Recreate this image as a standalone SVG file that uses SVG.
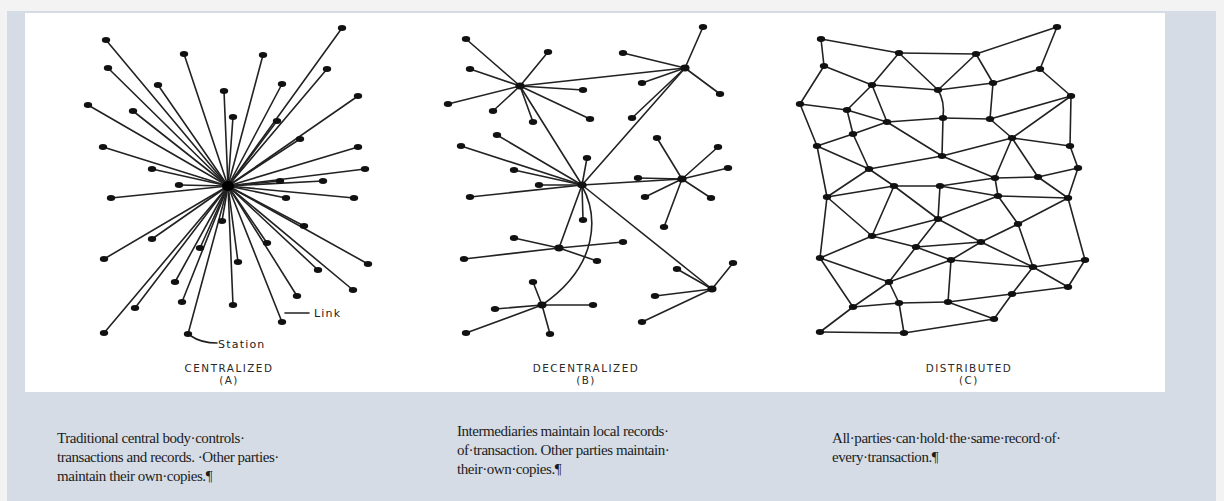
<svg xmlns="http://www.w3.org/2000/svg" width="1224" height="501" viewBox="0 0 1224 501">
<style>
.n{fill:#111}
.h{fill:#000}
.e line,.e path{stroke:#222;stroke-width:1.6;fill:none;stroke-linecap:round}
.cap{font-family:"DejaVu Sans",sans-serif;font-size:10.4px;letter-spacing:1.5px;fill:#2a2a2a;text-anchor:middle}
.lab{font-family:"DejaVu Sans",sans-serif;font-size:11px;letter-spacing:1.2px;fill:#222}
.para{font-family:"Liberation Serif",serif;font-size:15px;letter-spacing:-0.45px;fill:#1c1c1c}
</style>
<defs>
<ellipse id="d" rx="4.2" ry="3"/>
</defs>
<rect x="0" y="0" width="1224" height="501" fill="#f3f3f3"/>
<rect x="7" y="11" width="1209" height="490" fill="#d5dce6"/>
<rect x="25" y="13" width="1140" height="379" fill="#ffffff"/>

<g id="connectors" class="e">
<g id="edges-A">
<line x1="228" y1="186" x2="106" y2="40"/><line x1="228" y1="186" x2="184" y2="54"/><line x1="228" y1="186" x2="263" y2="55"/><line x1="228" y1="186" x2="342" y2="28"/>
<line x1="228" y1="186" x2="108" y2="68"/><line x1="228" y1="186" x2="158" y2="85"/><line x1="228" y1="186" x2="224" y2="91"/><line x1="228" y1="186" x2="282" y2="84"/>
<line x1="228" y1="186" x2="327" y2="69"/><line x1="228" y1="186" x2="88" y2="105"/><line x1="228" y1="186" x2="133" y2="111"/><line x1="228" y1="186" x2="233" y2="117"/>
<line x1="228" y1="186" x2="277" y2="121"/><line x1="228" y1="186" x2="358" y2="96"/><line x1="228" y1="186" x2="103" y2="147"/><line x1="228" y1="186" x2="300" y2="139"/>
<line x1="228" y1="186" x2="358" y2="147"/><line x1="228" y1="186" x2="152" y2="169"/><line x1="228" y1="186" x2="365" y2="169"/><line x1="228" y1="186" x2="280" y2="181"/>
<line x1="228" y1="186" x2="323" y2="181"/><line x1="228" y1="186" x2="179" y2="185"/><line x1="228" y1="186" x2="111" y2="198"/><line x1="228" y1="186" x2="286" y2="198"/>
<line x1="228" y1="186" x2="354" y2="198"/><line x1="228" y1="186" x2="222" y2="221"/><line x1="228" y1="186" x2="304" y2="226"/><line x1="228" y1="186" x2="152" y2="239"/>
<line x1="228" y1="186" x2="200" y2="248"/><line x1="228" y1="186" x2="267" y2="243"/><line x1="228" y1="186" x2="104" y2="259"/><line x1="228" y1="186" x2="238" y2="262"/>
<line x1="228" y1="186" x2="368" y2="264"/><line x1="228" y1="186" x2="318" y2="270"/><line x1="228" y1="186" x2="175" y2="282"/><line x1="228" y1="186" x2="353" y2="290"/>
<line x1="228" y1="186" x2="297" y2="296"/><line x1="228" y1="186" x2="182" y2="302"/><line x1="228" y1="186" x2="233" y2="305"/><line x1="228" y1="186" x2="135" y2="308"/>
<line x1="228" y1="186" x2="282" y2="322"/><line x1="228" y1="186" x2="104" y2="333"/><line x1="228" y1="186" x2="188" y2="334"/>
<line x1="285" y1="313" x2="309" y2="313"/>
<path d="M191,336 Q201,343 217,343"/>
</g>
<g id="edges-B">
<line x1="520" y1="86" x2="466" y2="39"/><line x1="520" y1="86" x2="548" y2="52"/><line x1="520" y1="86" x2="470" y2="69"/><line x1="520" y1="86" x2="448" y2="104"/>
<line x1="520" y1="86" x2="493" y2="111"/><line x1="520" y1="86" x2="533" y2="122"/><line x1="520" y1="86" x2="583" y2="90"/><line x1="520" y1="86" x2="590" y2="119"/>
<line x1="685" y1="68" x2="703" y2="27"/><line x1="685" y1="68" x2="623" y2="53"/><line x1="685" y1="68" x2="642" y2="83"/><line x1="685" y1="68" x2="720" y2="94"/><line x1="685" y1="68" x2="632" y2="118"/>
<line x1="582" y1="185" x2="497" y2="135"/><line x1="582" y1="185" x2="461" y2="146"/><line x1="582" y1="185" x2="514" y2="170"/><line x1="582" y1="185" x2="539" y2="185"/>
<line x1="582" y1="185" x2="587" y2="158"/><line x1="582" y1="185" x2="470" y2="197"/><line x1="582" y1="185" x2="583" y2="220"/>
<line x1="682" y1="179" x2="657" y2="138"/><line x1="682" y1="179" x2="718" y2="147"/><line x1="682" y1="179" x2="728" y2="168"/><line x1="682" y1="179" x2="638" y2="178"/>
<line x1="682" y1="179" x2="645" y2="197"/><line x1="682" y1="179" x2="711" y2="198"/><line x1="682" y1="179" x2="664" y2="227"/>
<line x1="559" y1="248" x2="514" y2="238"/><line x1="559" y1="248" x2="623" y2="242"/><line x1="559" y1="248" x2="464" y2="259"/><line x1="559" y1="248" x2="597" y2="261"/>
<line x1="712" y1="289" x2="733" y2="263"/><line x1="712" y1="289" x2="677" y2="269"/><line x1="712" y1="289" x2="655" y2="296"/><line x1="712" y1="289" x2="642" y2="322"/>
<line x1="542" y1="305" x2="533" y2="282"/><line x1="542" y1="305" x2="495" y2="309"/><line x1="542" y1="305" x2="593" y2="305"/><line x1="542" y1="305" x2="466" y2="333"/><line x1="542" y1="305" x2="550" y2="334"/>
<line x1="520" y1="86" x2="685" y2="68"/><line x1="520" y1="86" x2="582" y2="185"/><line x1="685" y1="68" x2="582" y2="185"/>
<line x1="582" y1="185" x2="682" y2="179"/><line x1="582" y1="185" x2="559" y2="248"/><line x1="582" y1="185" x2="712" y2="289"/>
<path d="M582,186 C598,215 600,265 542,305"/>
</g>
<g id="edges-C">
<line x1="821" y1="39" x2="899" y2="53"/><line x1="899" y1="53" x2="976" y2="54"/><line x1="976" y1="54" x2="1057" y2="27"/><line x1="821" y1="39" x2="824" y2="66"/>
<line x1="1057" y1="27" x2="1040" y2="69"/><line x1="824" y1="66" x2="872" y2="85"/><line x1="899" y1="53" x2="872" y2="85"/><line x1="899" y1="53" x2="938" y2="90"/>
<line x1="976" y1="54" x2="938" y2="90"/><line x1="976" y1="54" x2="993" y2="83"/><line x1="993" y1="83" x2="1040" y2="69"/><line x1="872" y1="85" x2="938" y2="90"/>
<line x1="938" y1="90" x2="993" y2="83"/><line x1="824" y1="66" x2="800" y2="104"/><line x1="1040" y1="69" x2="1071" y2="96"/><line x1="872" y1="85" x2="847" y2="110"/>
<line x1="872" y1="85" x2="887" y2="122"/><path d="M938,90 Q945,101 943,118"/><line x1="993" y1="83" x2="990" y2="119"/><line x1="800" y1="104" x2="847" y2="110"/>
<line x1="847" y1="110" x2="887" y2="122"/><line x1="887" y1="122" x2="943" y2="118"/><line x1="943" y1="118" x2="990" y2="119"/><line x1="990" y1="119" x2="1071" y2="96"/>
<line x1="847" y1="110" x2="853" y2="134"/><line x1="800" y1="104" x2="817" y2="146"/><line x1="853" y1="134" x2="887" y2="122"/><line x1="817" y1="146" x2="853" y2="134"/>
<line x1="1071" y1="96" x2="1012" y2="138"/><line x1="1071" y1="96" x2="1070" y2="146"/><line x1="990" y1="119" x2="1012" y2="138"/><line x1="887" y1="122" x2="942" y2="156"/>
<line x1="943" y1="118" x2="942" y2="156"/><line x1="1012" y1="138" x2="942" y2="156"/><line x1="1012" y1="138" x2="1070" y2="146"/><line x1="853" y1="134" x2="869" y2="169"/>
<line x1="817" y1="146" x2="869" y2="169"/><line x1="942" y1="156" x2="869" y2="169"/><line x1="1070" y1="146" x2="1078" y2="168"/><line x1="1012" y1="138" x2="995" y2="178"/>
<line x1="1012" y1="138" x2="1038" y2="177"/><line x1="942" y1="156" x2="995" y2="178"/><line x1="995" y1="178" x2="1038" y2="177"/><line x1="1038" y1="177" x2="1078" y2="168"/>
<line x1="869" y1="169" x2="894" y2="186"/><line x1="869" y1="169" x2="827" y2="197"/><line x1="817" y1="146" x2="827" y2="197"/><line x1="894" y1="186" x2="940" y2="186"/>
<line x1="827" y1="197" x2="894" y2="186"/><line x1="940" y1="186" x2="995" y2="178"/><line x1="940" y1="186" x2="998" y2="196"/><line x1="995" y1="178" x2="998" y2="196"/>
<line x1="1078" y1="168" x2="1068" y2="198"/><line x1="1038" y1="177" x2="1068" y2="198"/><line x1="998" y1="196" x2="1068" y2="198"/><line x1="940" y1="186" x2="938" y2="219"/>
<line x1="894" y1="186" x2="938" y2="219"/><line x1="998" y1="196" x2="938" y2="219"/><line x1="827" y1="197" x2="872" y2="236"/><line x1="894" y1="186" x2="872" y2="236"/>
<line x1="872" y1="236" x2="938" y2="219"/><line x1="938" y1="219" x2="981" y2="242"/><line x1="998" y1="196" x2="1018" y2="224"/><line x1="1068" y1="198" x2="1018" y2="224"/>
<line x1="1018" y1="224" x2="981" y2="242"/><line x1="938" y1="219" x2="916" y2="247"/><line x1="872" y1="236" x2="916" y2="247"/><line x1="916" y1="247" x2="981" y2="242"/>
<line x1="827" y1="197" x2="820" y2="258"/><line x1="872" y1="236" x2="820" y2="258"/><line x1="981" y1="242" x2="951" y2="260"/><line x1="916" y1="247" x2="951" y2="260"/>
<line x1="1068" y1="198" x2="1085" y2="260"/><line x1="1018" y1="224" x2="1033" y2="267"/><line x1="981" y1="242" x2="1033" y2="267"/><line x1="951" y1="260" x2="1033" y2="267"/>
<line x1="951" y1="260" x2="948" y2="302"/><line x1="1033" y1="267" x2="1085" y2="260"/><line x1="1033" y1="267" x2="1068" y2="287"/><line x1="1085" y1="260" x2="1068" y2="287"/>
<line x1="1033" y1="267" x2="1012" y2="294"/><line x1="1012" y1="294" x2="1068" y2="287"/><line x1="948" y1="302" x2="1012" y2="294"/><line x1="948" y1="302" x2="994" y2="319"/>
<line x1="1012" y1="294" x2="994" y2="319"/><line x1="904" y1="333" x2="994" y2="319"/><line x1="820" y1="258" x2="889" y2="282"/><line x1="916" y1="247" x2="889" y2="282"/>
<line x1="889" y1="282" x2="951" y2="260"/><line x1="820" y1="258" x2="853" y2="307"/><line x1="889" y1="282" x2="853" y2="307"/><line x1="889" y1="282" x2="899" y2="303"/>
<line x1="853" y1="307" x2="899" y2="303"/><line x1="899" y1="303" x2="948" y2="302"/><line x1="853" y1="307" x2="820" y2="332"/><line x1="820" y1="332" x2="904" y2="333"/>
<line x1="899" y1="303" x2="904" y2="333"/>
</g>
</g>

<g id="nodes-A" class="n">
<ellipse id="hubA" class="h" cx="228" cy="186" rx="6" ry="5"/>
<g id="a1"><use href="#d" x="106" y="40"/></g><g id="a2"><use href="#d" x="184" y="54"/></g><g id="a3"><use href="#d" x="263" y="55"/></g><g id="a4"><use href="#d" x="342" y="28"/></g>
<g id="a5"><use href="#d" x="108" y="68"/></g><g id="a6"><use href="#d" x="158" y="85"/></g><g id="a7"><use href="#d" x="224" y="91"/></g><g id="a8"><use href="#d" x="282" y="84"/></g>
<g id="a9"><use href="#d" x="327" y="69"/></g><g id="a10"><use href="#d" x="88" y="105"/></g><g id="a11"><use href="#d" x="133" y="111"/></g><g id="a12"><use href="#d" x="233" y="117"/></g>
<g id="a13"><use href="#d" x="277" y="121"/></g><g id="a14"><use href="#d" x="358" y="96"/></g><g id="a15"><use href="#d" x="103" y="147"/></g><g id="a16"><use href="#d" x="300" y="139"/></g>
<g id="a17"><use href="#d" x="358" y="147"/></g><g id="a18"><use href="#d" x="152" y="169"/></g><g id="a19"><use href="#d" x="365" y="169"/></g><g id="a20"><use href="#d" x="280" y="181"/></g>
<g id="a21"><use href="#d" x="323" y="181"/></g><g id="a22"><use href="#d" x="179" y="185"/></g><g id="a23"><use href="#d" x="111" y="198"/></g><g id="a24"><use href="#d" x="286" y="198"/></g>
<g id="a25"><use href="#d" x="354" y="198"/></g><g id="a26"><use href="#d" x="222" y="221"/></g><g id="a27"><use href="#d" x="304" y="226"/></g><g id="a28"><use href="#d" x="152" y="239"/></g>
<g id="a29"><use href="#d" x="200" y="248"/></g><g id="a30"><use href="#d" x="267" y="243"/></g><g id="a31"><use href="#d" x="104" y="259"/></g><g id="a32"><use href="#d" x="238" y="262"/></g>
<g id="a33"><use href="#d" x="368" y="264"/></g><g id="a34"><use href="#d" x="318" y="270"/></g><g id="a35"><use href="#d" x="175" y="282"/></g><g id="a36"><use href="#d" x="353" y="290"/></g>
<g id="a37"><use href="#d" x="297" y="296"/></g><g id="a38"><use href="#d" x="182" y="302"/></g><g id="a39"><use href="#d" x="233" y="305"/></g><g id="a40"><use href="#d" x="135" y="308"/></g>
<g id="a41"><use href="#d" x="282" y="322"/></g><g id="a42"><use href="#d" x="104" y="333"/></g><g id="a43"><use href="#d" x="188" y="334"/></g>
</g>

<g id="nodes-B" class="n">
<g id="b-hub1"><ellipse cx="520" cy="86" rx="4.6" ry="3.4"/></g><g id="b-hub2"><ellipse cx="685" cy="68" rx="4.6" ry="3.4"/></g><g id="b-hub3"><ellipse cx="582" cy="185" rx="4.8" ry="3.6"/></g>
<g id="b-hub4"><ellipse cx="682" cy="179" rx="4.6" ry="3.4"/></g><g id="b-hub5"><ellipse cx="559" cy="248" rx="4.6" ry="3.4"/></g><g id="b-hub6"><ellipse cx="712" cy="289" rx="4.6" ry="3.4"/></g><g id="b-hub7"><ellipse cx="542" cy="305" rx="4.6" ry="3.4"/></g>
<g id="b1"><use href="#d" x="466" y="39"/></g><g id="b2"><use href="#d" x="548" y="52"/></g><g id="b3"><use href="#d" x="470" y="69"/></g><g id="b4"><use href="#d" x="448" y="104"/></g>
<g id="b5"><use href="#d" x="493" y="111"/></g><g id="b6"><use href="#d" x="533" y="122"/></g><g id="b7"><use href="#d" x="583" y="90"/></g><g id="b8"><use href="#d" x="590" y="119"/></g>
<g id="b9"><use href="#d" x="703" y="27"/></g><g id="b10"><use href="#d" x="623" y="53"/></g><g id="b11"><use href="#d" x="642" y="83"/></g><g id="b12"><use href="#d" x="720" y="94"/></g><g id="b13"><use href="#d" x="632" y="118"/></g>
<g id="b14"><use href="#d" x="497" y="135"/></g><g id="b15"><use href="#d" x="461" y="146"/></g><g id="b16"><use href="#d" x="514" y="170"/></g><g id="b17"><use href="#d" x="539" y="185"/></g>
<g id="b18"><use href="#d" x="587" y="158"/></g><g id="b19"><use href="#d" x="470" y="197"/></g><g id="b20"><use href="#d" x="583" y="220"/></g>
<g id="b21"><use href="#d" x="657" y="138"/></g><g id="b22"><use href="#d" x="718" y="147"/></g><g id="b23"><use href="#d" x="728" y="168"/></g><g id="b24"><use href="#d" x="638" y="178"/></g>
<g id="b25"><use href="#d" x="645" y="197"/></g><g id="b26"><use href="#d" x="711" y="198"/></g><g id="b27"><use href="#d" x="664" y="227"/></g>
<g id="b28"><use href="#d" x="514" y="238"/></g><g id="b29"><use href="#d" x="623" y="242"/></g><g id="b30"><use href="#d" x="464" y="259"/></g><g id="b31"><use href="#d" x="597" y="261"/></g>
<g id="b32"><use href="#d" x="733" y="263"/></g><g id="b33"><use href="#d" x="677" y="269"/></g><g id="b34"><use href="#d" x="655" y="296"/></g><g id="b35"><use href="#d" x="642" y="322"/></g>
<g id="b36"><use href="#d" x="533" y="282"/></g><g id="b37"><use href="#d" x="495" y="309"/></g><g id="b38"><use href="#d" x="593" y="305"/></g><g id="b39"><use href="#d" x="466" y="333"/></g><g id="b40"><use href="#d" x="550" y="334"/></g>
</g>

<g id="nodes-C" class="n">
<g id="c1"><use href="#d" x="821" y="39"/></g><g id="c2"><use href="#d" x="899" y="53"/></g><g id="c3"><use href="#d" x="976" y="54"/></g><g id="c4"><use href="#d" x="1057" y="27"/></g>
<g id="c5"><use href="#d" x="824" y="66"/></g><g id="c6"><use href="#d" x="872" y="85"/></g><g id="c7"><use href="#d" x="938" y="90"/></g><g id="c8"><use href="#d" x="993" y="83"/></g>
<g id="c9"><use href="#d" x="1040" y="69"/></g><g id="c10"><use href="#d" x="800" y="104"/></g><g id="c11"><use href="#d" x="847" y="110"/></g><g id="c12"><use href="#d" x="887" y="122"/></g>
<g id="c13"><use href="#d" x="943" y="118"/></g><g id="c14"><use href="#d" x="990" y="119"/></g><g id="c15"><use href="#d" x="1071" y="96"/></g><g id="c16"><use href="#d" x="853" y="134"/></g>
<g id="c17"><use href="#d" x="817" y="146"/></g><g id="c18"><use href="#d" x="1012" y="138"/></g><g id="c19"><use href="#d" x="1070" y="146"/></g><g id="c20"><use href="#d" x="942" y="156"/></g>
<g id="c21"><use href="#d" x="869" y="169"/></g><g id="c22"><use href="#d" x="1078" y="168"/></g><g id="c23"><use href="#d" x="995" y="178"/></g><g id="c24"><use href="#d" x="1038" y="177"/></g>
<g id="c25"><use href="#d" x="894" y="186"/></g><g id="c26"><use href="#d" x="940" y="186"/></g><g id="c27"><use href="#d" x="827" y="197"/></g><g id="c28"><use href="#d" x="998" y="196"/></g>
<g id="c29"><use href="#d" x="1068" y="198"/></g><g id="c30"><use href="#d" x="938" y="219"/></g><g id="c31"><use href="#d" x="1018" y="224"/></g><g id="c32"><use href="#d" x="872" y="236"/></g>
<g id="c33"><use href="#d" x="981" y="242"/></g><g id="c34"><use href="#d" x="916" y="247"/></g><g id="c35"><use href="#d" x="820" y="258"/></g><g id="c36"><use href="#d" x="951" y="260"/></g>
<g id="c37"><use href="#d" x="1085" y="260"/></g><g id="c38"><use href="#d" x="1033" y="267"/></g><g id="c39"><use href="#d" x="889" y="282"/></g><g id="c40"><use href="#d" x="1068" y="287"/></g>
<g id="c41"><use href="#d" x="1012" y="294"/></g><g id="c42"><use href="#d" x="853" y="307"/></g><g id="c43"><use href="#d" x="899" y="303"/></g><g id="c44"><use href="#d" x="948" y="302"/></g>
<g id="c45"><use href="#d" x="994" y="319"/></g><g id="c46"><use href="#d" x="820" y="332"/></g><g id="c47"><use href="#d" x="904" y="333"/></g>
</g>

<g id="labels">
<text class="lab" x="314" y="317">Link</text>
<text class="lab" x="218" y="348">Station</text>
<text class="cap" x="229" y="372">CENTRALIZED</text>
<text class="cap" x="229" y="384">(A)</text>
<text class="cap" x="586" y="372">DECENTRALIZED</text>
<text class="cap" x="586" y="384">(B)</text>
<text class="cap" x="969" y="372">DISTRIBUTED</text>
<text class="cap" x="969" y="384">(C)</text>
</g>

<g id="captions">
<text class="para" x="57" y="443">Traditional central body·controls·</text>
<text class="para" x="57" y="462">transactions and records. ·Other parties·</text>
<text class="para" x="57" y="481">maintain their own·copies.¶</text>
<text class="para" x="457" y="436">Intermediaries maintain local records·</text>
<text class="para" x="457" y="455">of·transaction. Other parties maintain·</text>
<text class="para" x="457" y="474">their·own·copies.¶</text>
<text class="para" x="832" y="443">All·parties·can·hold·the·same·record·of·</text>
<text class="para" x="832" y="462">every·transaction.¶</text>
</g>
</svg>
